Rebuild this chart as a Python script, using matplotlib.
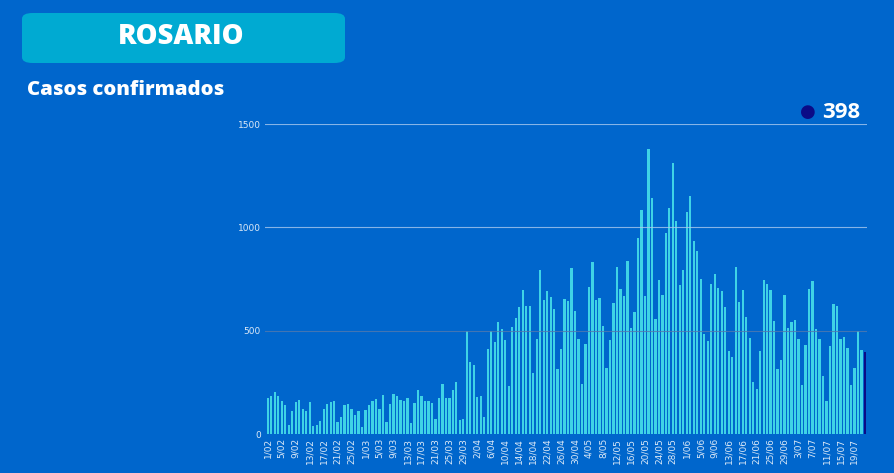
import datetime as dt

import matplotlib
matplotlib.use("Agg")
import matplotlib.pyplot as plt
from matplotlib.patches import FancyBboxPatch

# Daily confirmed cases, Rosario, 1/02 .. 22/07
start_date = dt.date(2021, 2, 1)
cases = [
    175, 186, 204, 183, 162, 138, 45, 113, 157, 165,
    123, 113, 157, 40, 44, 61, 123, 146, 157, 160,
    60, 84, 138, 147, 123, 90, 110, 35, 117, 142,
    159, 170, 121, 188, 58, 147, 193, 182, 166, 159,
    175, 54, 151, 211, 185, 159, 162, 150, 73, 176,
    244, 176, 176, 211, 253, 70, 74, 500, 346, 335,
    180, 184, 83, 413, 500, 443, 544, 508, 455, 233,
    519, 561, 615, 696, 621, 621, 294, 461, 794, 646,
    694, 665, 605, 316, 409, 655, 642, 802, 597, 461,
    243, 437, 709, 830, 650, 658, 523, 320, 455, 636,
    807, 702, 670, 835, 515, 592, 947, 1082, 670, 1380,
    1141, 557, 744, 675, 972, 1092, 1312, 1031, 722, 793,
    1073, 1150, 934, 887, 752, 485, 451, 728, 773, 707,
    691, 613, 403, 374, 807, 639, 699, 568, 464, 251,
    218, 400, 743, 728, 697, 545, 316, 359, 675, 515,
    542, 552, 461, 238, 430, 702, 739, 506, 461, 280,
    160, 426, 629, 618, 461, 469, 414, 236, 320, 500,
    408, 398,
]
dates = [start_date + dt.timedelta(days=i) for i in range(len(cases))]
tick_labels = [f"{d.day}/{d.month:02d}" for d in dates]
y_ticks = [0, 500, 1000, 1500]

bg = "#0066cc"
bar_color = "#3fd3e6"
last_color = "#0b0b86"
text_color = "#dce9f7"

fig = plt.figure(figsize=(8.95, 4.73), dpi=100, facecolor=bg)

# header box
fig.patches.append(FancyBboxPatch((22 / 895, 1 - 63 / 473), 323 / 895, 50 / 473,
                                  boxstyle="round,pad=0,rounding_size=0.012",
                                  transform=fig.transFigure, facecolor="#00aad2",
                                  edgecolor="none"))
fig.text(181 / 895, 1 - 37 / 473, "ROSARIO", color="white", fontsize=19.8,
         fontweight="heavy", family="Open Sans", ha="center", va="center")
fig.text(27 / 895, 1 - 90 / 473, "Casos confirmados", color="white", fontsize=14.6,
         fontweight="heavy", family="Open Sans", ha="left", va="center")

ax = fig.add_axes([265 / 895, 39 / 473, 602 / 895, 310 / 473])
ax.set_facecolor(bg)

x = list(range(len(cases)))
colors = [bar_color] * (len(cases) - 1) + [last_color]
ax.bar(x, cases, width=0.65, color=colors, zorder=2)

# grid lines
for yv in y_ticks[1:]:
    c = "#5479ad" if yv == 500 else "#a9c9ee"
    ax.axhline(yv, color=c, lw=0.8, alpha=0.8, zorder=3)

ax.set_xlim(-0.8, len(cases) - 0.4)
ax.set_ylim(0, 1500)
ax.set_yticks(y_ticks)
ax.set_yticklabels([str(v) for v in y_ticks], fontsize=6.5, color=text_color)
ax.set_xticks(x[::4])
ax.set_xticklabels(tick_labels[::4], rotation=90, fontsize=6.5, color=text_color)
ax.tick_params(length=0, pad=3)
for s in ax.spines.values():
    s.set_visible(False)

# last value marker
fig.text(808 / 895, 1 - 112 / 473, "\u25cf", color=last_color, fontsize=13,
         ha="center", va="center")
fig.text(822 / 895, 1 - 112 / 473, str(cases[-1]), color="white", fontsize=16,
         fontweight="bold", family="Open Sans", ha="left", va="center")

fig.savefig("out.png", dpi=100, facecolor=bg)
